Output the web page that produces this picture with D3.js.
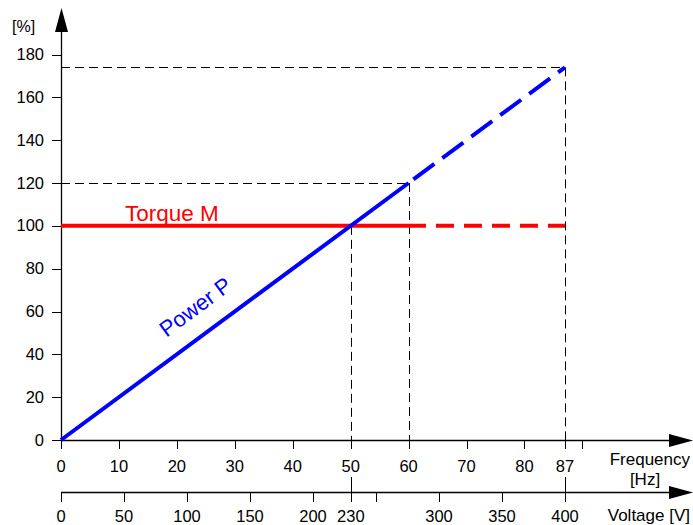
<!DOCTYPE html>
<html>
<head>
<meta charset="utf-8">
<script src="https://cdn.jsdelivr.net/npm/d3@7"></script>
<style>
  body { margin: 0; background: #fff; }
  text { font-family: "Liberation Sans", Arial, sans-serif; }
</style>
</head>
<body>
<div id="chart"></div>
<script>
// Data
const percentTicks = [0, 20, 40, 60, 80, 100, 120, 140, 160, 180];
const freqTicks = [0, 10, 20, 30, 40, 50, 60, 70, 80, 87, 90];
const freqLabels = [0, 10, 20, 30, 40, 50, 60, 70, 80, 87];
const voltTicks = [0, 50, 100, 150, 200, 230, 250, 300, 350, 400];
const voltLabels = [0, 50, 100, 150, 200, 230, 300, 350, 400];
const powerSolid = [[0, 0], [60, 120]];
const powerDashed = [[60, 120], [87, 174]];
const torqueSolid = [[0, 100], [63, 100]];
const torqueDashed = [[63, 100], [87, 100]];
// guide lines: [freq, percent]
const guides = [[50, 100], [60, 120], [87, 174]];
const longVoltTicks = [230, 400];

const W = 693, H = 525;
const x0 = 61, freqY = 440, voltY = 492;

const svg = d3.select("#chart").append("svg")
  .attr("width", W).attr("height", H);

const x = d3.scaleLinear().domain([0, 87]).range([x0, 565]);
const xv = d3.scaleLinear().domain([0, 400]).range([x0, 565]);
const y = d3.scaleLinear().domain([0, 180]).range([freqY, 54.5]);

// Guide dashed lines
const g = svg.append("g")
  .attr("stroke", "#000").attr("stroke-width", 1)
  .attr("stroke-dasharray", "9,5").attr("fill", "none");
guides.forEach(([f, p]) => {
  g.append("line").attr("x1", x0).attr("x2", x(f))
    .attr("y1", Math.round(y(p)) + 0.5).attr("y2", Math.round(y(p)) + 0.5);
  g.append("line").attr("x1", Math.round(x(f)) + 0.5).attr("x2", Math.round(x(f)) + 0.5)
    .attr("y1", y(p)).attr("y2", freqY);
});

// Y axis
svg.append("line").attr("x1", x0 + 0.5).attr("x2", x0 + 0.5)
  .attr("y1", freqY + 0.5).attr("y2", 30).attr("stroke", "#000").attr("stroke-width", 1.3);
svg.append("path").attr("d", `M${x0 + 0.5},8 L${x0 - 6},32 L${x0 + 7},32 Z`).attr("fill", "#000");
svg.selectAll(".ytick").data(percentTicks).enter().append("line")
  .attr("x1", 52).attr("x2", x0)
  .attr("y1", d => Math.round(y(d)) + 0.5).attr("y2", d => Math.round(y(d)) + 0.5)
  .attr("stroke", "#000");
svg.selectAll(".ylab").data(percentTicks).enter().append("text")
  .attr("x", 44).attr("y", d => y(d) + 5.5)
  .attr("text-anchor", "end").attr("font-size", 16.5).text(d => d);
svg.append("text").attr("x", 12).attr("y", 32).attr("font-size", 16).text("[%]");

// Frequency axis
svg.append("line").attr("x1", x0).attr("x2", 672)
  .attr("y1", freqY + 0.5).attr("y2", freqY + 0.5).attr("stroke", "#000").attr("stroke-width", 1.3);
svg.append("path").attr("d", `M693,${freqY + 0.5} L669,${freqY - 6} L669,${freqY + 7} Z`).attr("fill", "#000");
svg.selectAll(".xtick").data(freqTicks).enter().append("line")
  .attr("x1", d => Math.round(x(d)) + 0.5).attr("x2", d => Math.round(x(d)) + 0.5)
  .attr("y1", freqY).attr("y2", freqY + 9).attr("stroke", "#000");
svg.selectAll(".xlab").data(freqLabels).enter().append("text")
  .attr("x", d => x(d)).attr("y", 472)
  .attr("text-anchor", "middle").attr("font-size", 16.5).text(d => d);
svg.append("text").attr("x", 690).attr("y", 465).attr("text-anchor", "end")
  .attr("font-size", 17).text("Frequency");
svg.append("text").attr("x", 645).attr("y", 485).attr("text-anchor", "middle")
  .attr("font-size", 17).text("[Hz]");

// Voltage axis
svg.append("line").attr("x1", x0).attr("x2", 672)
  .attr("y1", voltY + 0.5).attr("y2", voltY + 0.5).attr("stroke", "#000").attr("stroke-width", 1.3);
svg.append("path").attr("d", `M693,${voltY + 0.5} L669,${voltY - 6} L669,${voltY + 7} Z`).attr("fill", "#000");
svg.selectAll(".vtick").data(voltTicks).enter().append("line")
  .attr("x1", d => Math.round(xv(d)) + 0.5).attr("x2", d => Math.round(xv(d)) + 0.5)
  .attr("y1", d => longVoltTicks.includes(d) ? 477 : voltY).attr("y2", voltY + 10)
  .attr("stroke", "#000");
svg.selectAll(".vlab").data(voltLabels).enter().append("text")
  .attr("x", d => xv(d)).attr("y", 522)
  .attr("text-anchor", "middle").attr("font-size", 16.5).text(d => d);
svg.append("text").attr("x", 690).attr("y", 521).attr("text-anchor", "end")
  .attr("font-size", 17).text("Voltage [V]");

// Series
const line = d3.line().x(d => x(d[0])).y(d => y(d[1]));
svg.append("path").attr("d", line(torqueSolid)).attr("stroke", "#ff0000")
  .attr("stroke-width", 4).attr("fill", "none");
svg.append("path").attr("d", line(torqueDashed)).attr("stroke", "#ff0000")
  .attr("stroke-width", 4).attr("fill", "none").attr("stroke-dasharray", "18,10")
  .attr("stroke-dashoffset", -10);
svg.append("path").attr("d", line(powerSolid)).attr("stroke", "#0000ff")
  .attr("stroke-width", 4).attr("fill", "none");
svg.append("path").attr("d", line(powerDashed)).attr("stroke", "#0000ff")
  .attr("stroke-width", 4).attr("fill", "none").attr("stroke-dasharray", "26,10")
  .attr("stroke-dashoffset", -6);

// Labels
svg.append("text").attr("x", 125).attr("y", 221).attr("fill", "#ff0000")
  .attr("font-size", 22.5).text("Torque M");
const ang = -Math.atan((y(0) - y(120)) / (x(60) - x(0))) * 180 / Math.PI;
svg.append("text").attr("transform", `translate(200,313) rotate(${ang})`)
  .attr("text-anchor", "middle").attr("fill", "#0000ff")
  .attr("font-size", 22).text("Power P");
</script>
</body>
</html>
